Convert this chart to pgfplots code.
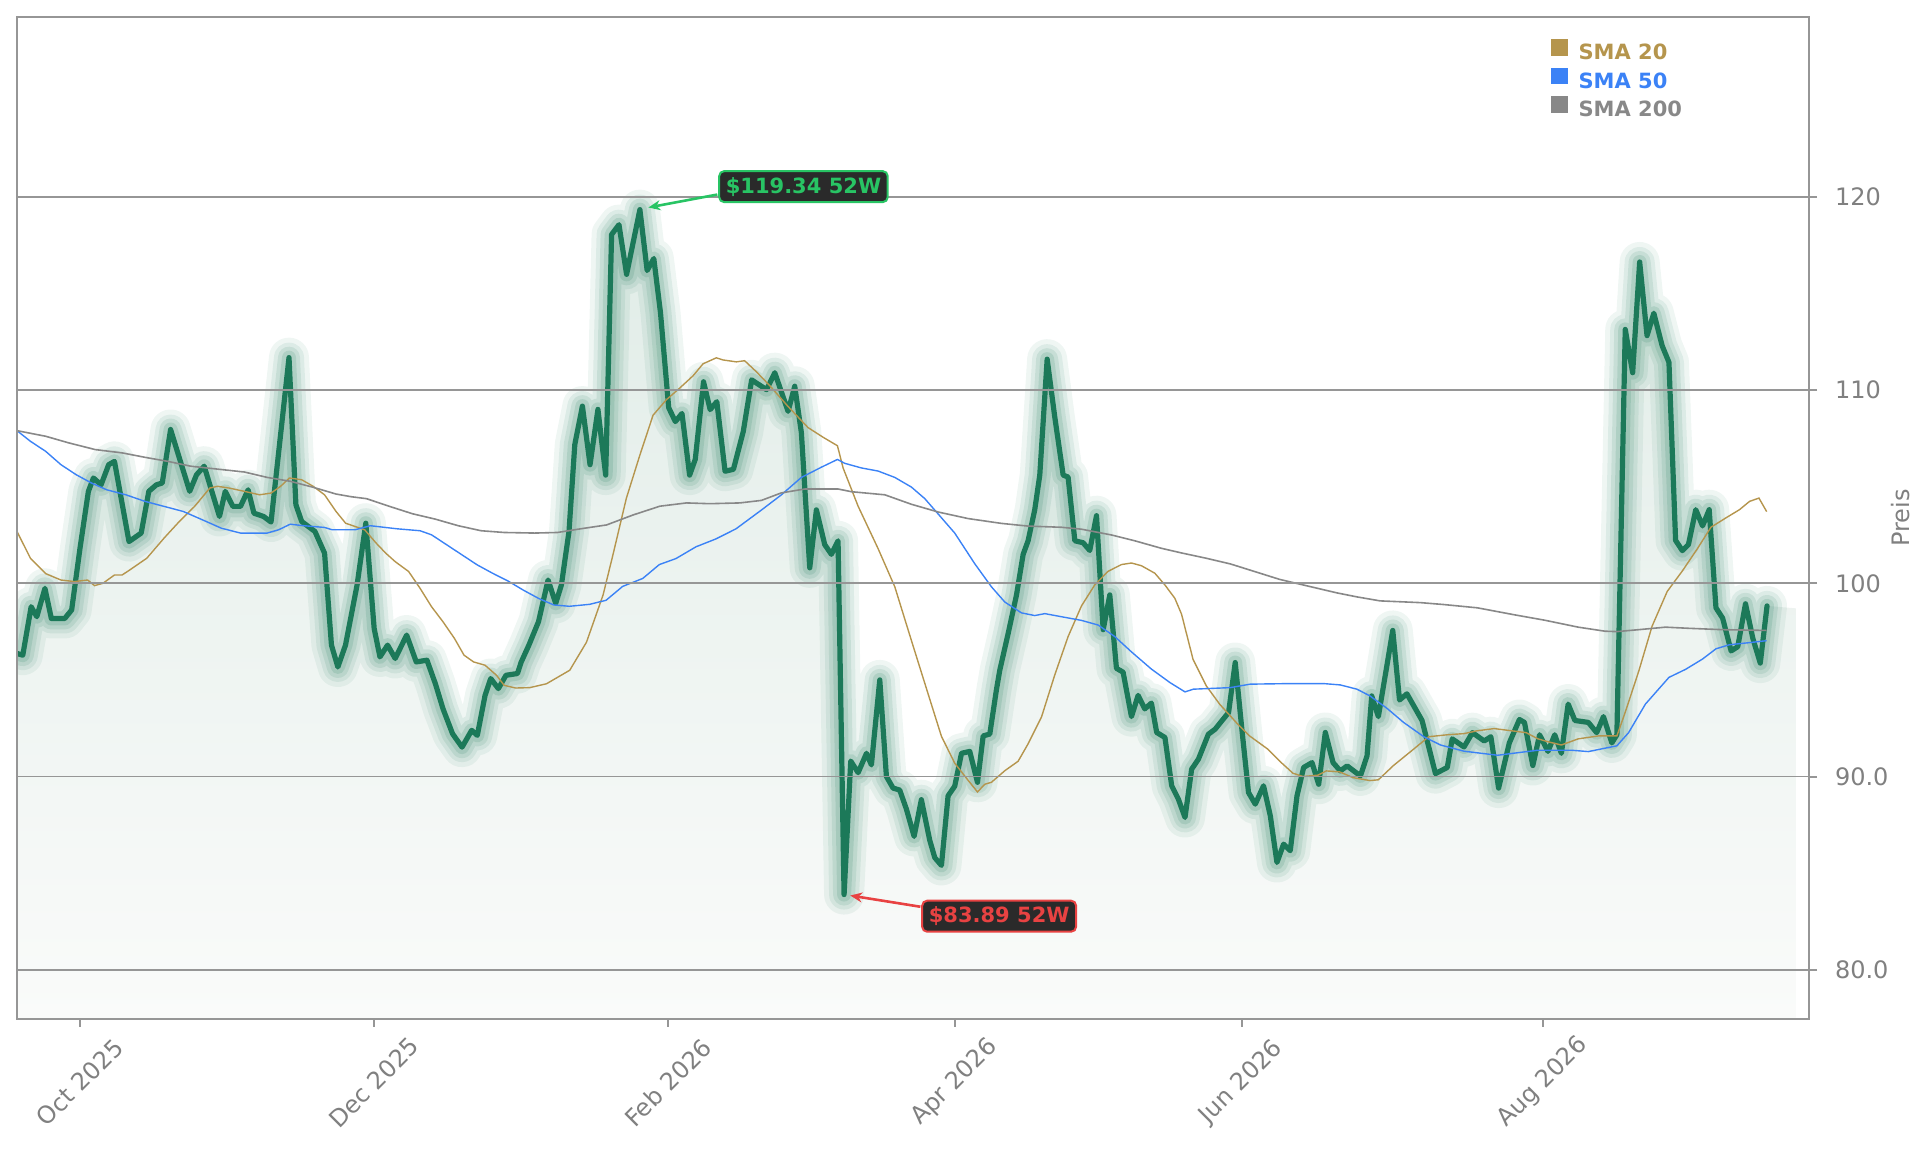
\documentclass[border=0pt]{standalone}
\usepackage{fontspec}
\setmainfont{DejaVu Sans}
\usepackage{pgfplots}
\usepackage{pgfplotstable}
\pgfplotsset{compat=1.18}
\usetikzlibrary{arrows.meta}
\definecolor{pricegreen}{RGB}{28,121,89}
\definecolor{smaA}{RGB}{181,149,77}
\definecolor{smaB}{RGB}{59,130,246}
\definecolor{smaC}{RGB}{136,136,136}
\definecolor{gridgray}{RGB}{150,150,150}
\definecolor{tickgray}{RGB}{128,128,128}
\definecolor{fillTop}{RGB}{224,236,231}
\definecolor{fillBot}{RGB}{250,251,250}
\definecolor{hiGreen}{RGB}{40,196,100}
\definecolor{loRed}{RGB}{232,66,66}
\definecolor{boxDark}{RGB}{42,42,42}

\pgfplotstableread{
x y
14 96.37
18.7 96.28
25.5 98.79
30.1 98.27
36.7 99.74
41.9 98.18
52.8 98.18
58.4 98.62
65.2 101.82
72.0 104.76
76.1 105.45
82.3 105.10
88.5 106.14
93.2 106.31
105.0 102.16
114.9 102.60
121.1 104.76
127.3 105.10
132.0 105.19
138.8 107.96
145.9 106.49
154.3 104.76
159.9 105.62
166.1 106.06
178.5 103.46
183.2 104.76
189.4 103.98
195.6 103.98
201.8 104.84
206.5 103.63
214.3 103.46
220.4 103.17
235.0 111.68
240.6 104.07
245.3 103.20
256.1 102.68
263.9 101.56
269.5 96.80
274.7 95.67
280.9 96.80
290.3 99.91
297.4 103.11
304.2 97.66
308.9 96.19
315.1 96.80
321.3 96.11
330.6 97.32
338.4 95.93
347.1 96.02
353.9 94.81
360.1 93.51
367.9 92.21
375.6 91.52
383.4 92.39
388.0 92.13
394.3 94.20
398.9 95.07
405.1 94.55
411.3 95.24
420.6 95.33
423.7 95.93
429.9 96.80
437.7 98.01
445.5 100.17
451.7 98.96
456.3 99.91
462.5 102.68
467.2 107.18
473.4 109.17
479.6 106.14
486.0 109.0
492.3 105.6
497.1 118.05
503.1 118.56
509.3 115.99
520.1 119.34
526.0 116.19
531.4 116.81
536.8 114.03
543.5 109.09
548.9 108.37
554.3 108.79
560.5 105.60
565.1 106.42
571.8 110.43
577.2 108.99
582.6 109.40
589.3 105.80
596.1 105.90
604.1 107.86
610.9 110.53
623.0 110.02
629.7 110.9
640.5 108.9
645.9 110.2
651.3 107.8
658.1 100.8
663.5 103.8
670.3 102.0
675.7 101.5
681.1 102.2
686.0 83.89
691.4 90.8
697.4 90.2
704.2 91.2
708.2 90.6
715.0 95.0
720.4 90.0
725.8 89.4
731.2 89.3
736.7 88.3
742.9 86.9
748.8 88.8
755.6 86.7
759.7 85.8
765.1 85.4
770.5 89.0
775.9 89.5
781.4 91.2
788.1 91.3
794.4 89.7
799.0 92.1
804.4 92.2
809.8 94.5
812.5 95.5
819.3 97.4
826.1 99.4
831.5 101.5
835.5 102.2
840.9 103.8
845.0 105.6
851.0 111.6
857.2 108.6
864.0 105.6
868.0 105.5
873.5 102.2
880.2 102.1
885.6 101.7
891.1 103.5
896.5 97.6
901.9 99.4
907.3 95.6
912.7 95.4
919.5 93.1
924.9 94.2
930.3 93.5
935.7 93.8
940.0 92.28
946.7 92.02
952.2 89.52
957.6 88.83
963.0 87.88
968.4 90.38
973.9 90.9
982.0 92.19
987.5 92.45
992.9 92.88
998.4 93.31
1003.8 95.9
1009.2 92.45
1014.6 89.17
1020.1 88.57
1026.8 89.52
1032.3 87.97
1037.7 85.55
1043.1 86.5
1048.5 86.16
1054.0 89.0
1059.4 90.47
1066.2 90.72
1071.6 89.6
1077.0 92.28
1083.3 90.72
1089.2 90.29
1094.7 90.55
1105.5 90.03
1110.9 91.07
1114.7 94.17
1120.1 93.1
1131.8 97.56
1137.3 93.96
1143.3 94.28
1155.6 92.9
1166.5 90.15
1176.1 90.47
1180.1 91.95
1189.7 91.53
1196.5 92.27
1206.1 91.84
1211.5 92.06
1217.8 89.4
1226.5 91.74
1234.7 92.95
1238.8 92.8
1245.6 90.57
1251.1 92.16
1257.9 91.3
1263.4 92.16
1268.8 91.2
1274.3 93.75
1279.8 92.9
1290.7 92.8
1297.5 92.27
1303.0 93.1
1309.8 91.74
1313.9 92.16
1320.7 113.14
1326.7 110.9
1332.4 116.63
1338.4 112.82
1343.9 113.98
1350.7 112.29
1356.2 111.44
1361.6 102.22
1367.1 101.69
1372.0 102.0
1378.0 103.81
1383.5 102.97
1388.9 103.81
1394.4 98.73
1399.8 98.2
1406.7 96.5
1412.1 96.72
1418.4 98.94
1424.4 97.14
1430.4 95.87
1435.9 98.83
}\price

\pgfplotstableread{
x y
14 96.37
18.7 96.28
25.5 98.79
30.1 98.27
36.7 99.74
41.9 98.18
52.8 98.18
58.4 98.62
65.2 101.82
72.0 104.76
76.1 105.45
82.3 105.10
88.5 106.14
93.2 106.31
105.0 102.16
114.9 102.60
121.1 104.76
127.3 105.10
132.0 105.19
138.8 107.96
145.9 106.49
154.3 104.76
159.9 105.62
166.1 106.06
178.5 103.46
183.2 104.76
189.4 103.98
195.6 103.98
201.8 104.84
206.5 103.63
214.3 103.46
220.4 103.17
235.0 111.68
240.6 104.07
245.3 103.20
256.1 102.68
263.9 101.56
269.5 96.80
274.7 95.67
280.9 96.80
290.3 99.91
297.4 103.11
304.2 97.66
308.9 96.19
315.1 96.80
321.3 96.11
330.6 97.32
338.4 95.93
347.1 96.02
353.9 94.81
360.1 93.51
367.9 92.21
375.6 91.52
383.4 92.39
388.0 92.13
394.3 94.20
398.9 95.07
405.1 94.55
411.3 95.24
420.6 95.33
423.7 95.93
429.9 96.80
437.7 98.01
445.5 100.17
451.7 98.96
456.3 99.91
462.5 102.68
467.2 107.18
473.4 109.17
479.6 106.14
486.0 109.0
492.3 105.6
497.1 118.05
503.1 118.56
509.3 115.99
520.1 119.34
526.0 116.19
531.4 116.81
536.8 114.03
543.5 109.09
548.9 108.37
554.3 108.79
560.5 105.60
565.1 106.42
571.8 110.43
577.2 108.99
582.6 109.40
589.3 105.80
596.1 105.90
604.1 107.86
610.9 110.53
623.0 110.02
629.7 110.9
640.5 108.9
645.9 110.2
651.3 107.8
658.1 100.8
663.5 103.8
670.3 102.0
675.7 101.5
681.1 102.2
686.0 83.89
691.4 90.8
697.4 90.2
704.2 91.2
708.2 90.6
715.0 95.0
720.4 90.0
725.8 89.4
731.2 89.3
736.7 88.3
742.9 86.9
748.8 88.8
755.6 86.7
759.7 85.8
765.1 85.4
770.5 89.0
775.9 89.5
781.4 91.2
788.1 91.3
794.4 89.7
799.0 92.1
804.4 92.2
809.8 94.5
812.5 95.5
819.3 97.4
826.1 99.4
831.5 101.5
835.5 102.2
840.9 103.8
845.0 105.6
851.0 111.6
857.2 108.6
864.0 105.6
868.0 105.5
873.5 102.2
880.2 102.1
885.6 101.7
891.1 103.5
896.5 97.6
901.9 99.4
907.3 95.6
912.7 95.4
919.5 93.1
924.9 94.2
930.3 93.5
935.7 93.8
940.0 92.28
946.7 92.02
952.2 89.52
957.6 88.83
963.0 87.88
968.4 90.38
973.9 90.9
982.0 92.19
987.5 92.45
992.9 92.88
998.4 93.31
1003.8 95.9
1009.2 92.45
1014.6 89.17
1020.1 88.57
1026.8 89.52
1032.3 87.97
1037.7 85.55
1043.1 86.5
1048.5 86.16
1054.0 89.0
1059.4 90.47
1066.2 90.72
1071.6 89.6
1077.0 92.28
1083.3 90.72
1089.2 90.29
1094.7 90.55
1105.5 90.03
1110.9 91.07
1114.7 94.17
1120.1 93.1
1131.8 97.56
1137.3 93.96
1143.3 94.28
1155.6 92.9
1166.5 90.15
1176.1 90.47
1180.1 91.95
1189.7 91.53
1196.5 92.27
1206.1 91.84
1211.5 92.06
1217.8 89.4
1226.5 91.74
1234.7 92.95
1238.8 92.8
1245.6 90.57
1251.1 92.16
1257.9 91.3
1263.4 92.16
1268.8 91.2
1274.3 93.75
1279.8 92.9
1290.7 92.8
1297.5 92.27
1303.0 93.1
1309.8 91.74
1313.9 92.16
1320.7 113.14
1326.7 110.9
1332.4 116.63
1338.4 112.82
1343.9 113.98
1350.7 112.29
1356.2 111.44
1361.6 102.22
1367.1 101.69
1372.0 102.0
1378.0 103.81
1383.5 102.97
1388.9 103.81
1394.4 98.73
1399.8 98.2
1406.7 96.5
1412.1 96.72
1418.4 98.94
1424.4 97.14
1430.4 95.87
1435.9 98.83
1460 98.70
1460 77.45
14 77.45
}\pricefill

\pgfplotstableread{
x y
14 102.68
24.9 101.3
37.3 100.5
49.7 100.17
60.6 100.09
71.4 100.17
77.0 99.88
83.8 100.0
93.2 100.43
99.4 100.43
105.6 100.69
119.5 101.3
133.5 102.34
145.9 103.2
158.3 103.98
170.7 104.93
176.9 105.02
186.3 104.93
198.7 104.76
211.1 104.58
220.4 104.67
228.2 105.02
235.3 105.45
245.3 105.36
254.6 105.02
263.9 104.58
273.2 103.72
281.0 103.11
288.7 102.94
296.5 102.77
305.8 102.08
313.6 101.56
321.3 101.12
332.2 100.61
341.5 99.74
350.8 98.79
360.1 98.01
369.4 97.15
377.2 96.28
385.0 95.93
394.3 95.76
403.6 95.24
409.8 94.72
419.1 94.58
430.6 94.6
444.2 94.8
463.1 95.5
476.7 96.95
490.2 99.4
498.3 101.5
509.1 104.4
519.9 106.6
530.8 108.7
541.6 109.5
552.4 110.1
563.3 110.74
571.4 111.36
582.2 111.67
587.6 111.56
598.5 111.46
605.2 111.52
614.7 110.95
625.6 110.23
640.5 109.15
656.7 108.06
668.9 107.56
680.6 107.12
685.2 105.97
697.4 103.99
713.6 101.8
727.2 99.82
740.7 97.04
754.3 94.27
765.1 92.08
775.9 90.69
786.8 89.8
794.4 89.2
800.3 89.6
805.7 89.7
816.6 90.3
827.4 90.79
835.5 91.69
846.4 93.08
857.2 95.26
868.0 97.24
878.9 98.83
889.7 99.92
900.5 100.62
911.4 100.97
919.5 101.05
927.6 100.91
938.5 100.52
946.6 99.92
954.7 99.23
960.2 98.4
969.5 96.07
980.3 94.69
991.2 93.74
1004.7 92.79
1015.5 92.1
1030.4 91.41
1041.2 90.72
1050.7 90.17
1058.8 90.0
1071.0 90.07
1077.8 90.29
1088.6 90.24
1099.6 89.94
1113.3 89.79
1120.1 89.83
1132.4 90.57
1148.8 91.42
1161.0 92.06
1176.1 92.16
1189.7 92.22
1200.6 92.37
1214.3 92.48
1227.9 92.37
1240.2 92.27
1249.7 91.95
1257.9 91.8
1268.8 91.63
1282.5 91.95
1298.9 92.1
1313.9 92.1
1320.7 93.33
1331.6 95.44
1342.5 97.78
1354.8 99.58
1367.1 100.64
1379.4 101.8
1390.3 102.9
1402.6 103.39
1413.5 103.81
1421.7 104.24
1429.3 104.41
1435.6 103.71
}\smaA

\pgfplotstableread{
x y
14 107.9
24.9 107.35
37.3 106.83
49.7 106.14
62.1 105.62
74.5 105.19
86.9 104.84
102.5 104.58
118.0 104.24
133.5 103.98
149.0 103.72
164.5 103.29
180.1 102.85
195.6 102.6
217.3 102.6
226.6 102.77
236.0 103.06
245.3 102.99
263.9 102.89
270.1 102.77
288.7 102.77
301.1 102.98
322.9 102.82
341.5 102.72
350.8 102.51
363.2 101.99
375.6 101.47
388.0 100.95
400.4 100.52
412.9 100.12
425.3 99.65
437.7 99.22
450.1 98.88
462.8 98.81
479.1 98.91
492.6 99.12
506.1 99.84
522.4 100.25
535.9 100.97
549.4 101.28
565.7 101.89
582.0 102.3
598.2 102.82
618.8 103.79
635.1 104.58
651.3 105.48
667.6 106.01
680.6 106.41
686.5 106.21
700.1 105.97
713.6 105.81
727.2 105.48
740.7 104.98
751.6 104.38
762.4 103.59
775.9 102.6
792.2 101.01
805.7 99.82
816.6 99.03
830.1 98.47
840.9 98.33
849.1 98.43
862.6 98.27
878.9 98.08
892.4 97.84
906.0 97.24
919.5 96.45
935.7 95.56
950.8 94.86
963.0 94.38
969.8 94.52
999.7 94.6
1015.9 94.78
1048.5 94.81
1075.6 94.81
1089.2 94.74
1102.7 94.52
1113.3 94.17
1126.9 93.54
1140.6 92.8
1157.0 92.06
1170.6 91.63
1189.7 91.31
1217.0 91.1
1230.6 91.21
1249.7 91.36
1277.0 91.36
1290.7 91.29
1313.9 91.59
1323.4 92.27
1337.1 93.75
1356.2 95.13
1369.8 95.55
1383.5 96.08
1394.4 96.61
1405.3 96.82
1421.7 96.93
1435.6 97.03
}\smaB

\pgfplotstableread{
x y
14 107.9
37.3 107.61
55.9 107.27
77.6 106.92
99.4 106.75
118.0 106.52
136.6 106.31
155.2 106.06
173.9 105.93
198.7 105.76
217.3 105.48
236.0 105.28
254.6 104.97
273.2 104.62
285.6 104.48
298.0 104.38
316.7 103.98
335.3 103.6
353.9 103.32
372.5 102.98
391.1 102.72
409.8 102.63
434.6 102.6
453.2 102.63
471.9 102.82
493.0 103.02
514.7 103.54
536.3 103.99
558.0 104.16
576.9 104.12
601.3 104.16
618.8 104.29
635.1 104.68
654.1 104.88
681.1 104.88
692.0 104.74
719.1 104.58
740.7 104.09
762.4 103.69
786.8 103.35
813.9 103.1
835.5 102.96
862.6 102.9
878.9 102.8
903.3 102.5
922.2 102.2
943.9 101.81
960.2 101.57
980 101.3
1000 101.0
1020 100.6
1040 100.2
1060 99.9
1086 99.51
1102.4 99.3
1121.5 99.09
1154.2 99.0
1173.3 98.9
1200.6 98.73
1230.6 98.37
1255.2 98.09
1282.5 97.73
1304.3 97.52
1313.9 97.5
1331.6 97.6
1353.4 97.73
1372.5 97.67
1399.8 97.6
1435.6 97.56
}\smaC

\begin{document}
\begin{tikzpicture}
\useasboundingbox (-8.5pt,-66pt) rectangle (956pt,509.5pt);
\begin{axis}[
  at={(0pt,0pt)}, anchor=south west,
  scale only axis, width=896pt, height=501pt,
  xmin=14, xmax=1470, ymin=77.45, ymax=129.31,
  axis on top,
  axis line style={draw=gridgray, line width=1pt},
  ymajorgrids, grid style={draw=gridgray, line width=0.85pt},
  tick align=outside, major tick length=4pt,
  major tick style={draw=gridgray, line width=1pt},
  xtick pos=bottom, ytick pos=right, yticklabel pos=right,
  xtick={65,304,543,776,1009,1254},
  xticklabels={Oct 2025,Dec 2025,Feb 2026,Apr 2026,Jun 2026,Aug 2026},
  ytick={80,90,100,110,120},
  yticklabels={80.0,90.0,100,110,120},
  /pgf/number format/assume math mode=true,
  tick label style={font=\fontsize{12}{14}\selectfont, text=tickgray},
  xticklabel style={yshift=-27.7pt, rotate=45, anchor=center},
  yticklabel style={anchor=west, inner sep=0pt, xshift=8.8pt},
  legend style={at={(rel axis cs:0.856,0.978)}, anchor=north west,
    draw=none, fill=none, inner sep=0pt, outer sep=0pt,
    row sep=2.3pt, column sep=5.5pt,
    font=\fontsize{10.5}{12}\selectfont\bfseries,
    nodes={inner sep=0pt}},
  legend cell align=left,
  legend image code/.code={\fill[#1, draw=none] (0pt,-1pt) rectangle (8.3pt,7.3pt);},
]
\addplot[forget plot, draw=none, top color=fillTop, bottom color=fillBot] table {\pricefill};
\addplot[forget plot, draw=pricegreen, draw opacity=0.07, line width=20pt, line join=round, line cap=round] table {\price};
\addplot[forget plot, draw=pricegreen, draw opacity=0.09, line width=15pt, line join=round, line cap=round] table {\price};
\addplot[forget plot, draw=pricegreen, draw opacity=0.11, line width=11pt, line join=round, line cap=round] table {\price};
\addplot[forget plot, draw=pricegreen, draw opacity=0.14, line width=7pt, line join=round, line cap=round] table {\price};
\addplot[forget plot, draw=pricegreen, line width=2.6pt, line join=round, line cap=round] table {\price};
\addplot[forget plot, draw=smaA, line width=0.7pt] table {\smaA};
\addplot[forget plot, draw=smaB, line width=0.7pt] table {\smaB};
\addplot[forget plot, draw=smaC, line width=0.8pt] table {\smaC};
\addlegendimage{fill=smaA, draw=none}
\addlegendentry{\textcolor{smaA}{SMA 20}}
\addlegendimage{fill=smaB, draw=none}
\addlegendentry{\textcolor{smaB}{SMA 50}}
\addlegendimage{fill=smaC, draw=none}
\addlegendentry{\textcolor{smaC}{SMA 200}}
\coordinate (hiBox) at (axis cs:653,120.53);
\coordinate (hiFrom) at (axis cs:583,120.12);
\coordinate (hiTo) at (axis cs:527,119.45);
\coordinate (loBox) at (axis cs:812,82.77);
\coordinate (loFrom) at (axis cs:748,83.26);
\coordinate (loTo) at (axis cs:691,83.84);
\coordinate (ylab) at (rel axis cs:1,0.5);
\end{axis}
\draw[hiGreen, line width=1.3pt, -{Stealth[length=6pt,width=5pt]}] (hiFrom) -- (hiTo);
\node[fill=boxDark, draw=hiGreen, line width=1pt, rounded corners=2.5pt, text=hiGreen,
  font=\fontsize{10.5}{12}\selectfont\bfseries, inner xsep=3.3pt, inner ysep=3pt] at (hiBox) {\$119.34 52W};
\draw[loRed, line width=1.3pt, -{Stealth[length=6pt,width=5pt]}] (loFrom) -- (loTo);
\node[fill=boxDark, draw=loRed, line width=1pt, rounded corners=2.5pt, text=loRed,
  font=\fontsize{10.5}{12}\selectfont\bfseries, inner xsep=3.3pt, inner ysep=3pt] at (loBox) {\$83.89 52W};
\node[xshift=46pt, rotate=90, text=tickgray, font=\fontsize{12}{14}\selectfont] at (ylab) {Preis};
\end{tikzpicture}
\end{document}
